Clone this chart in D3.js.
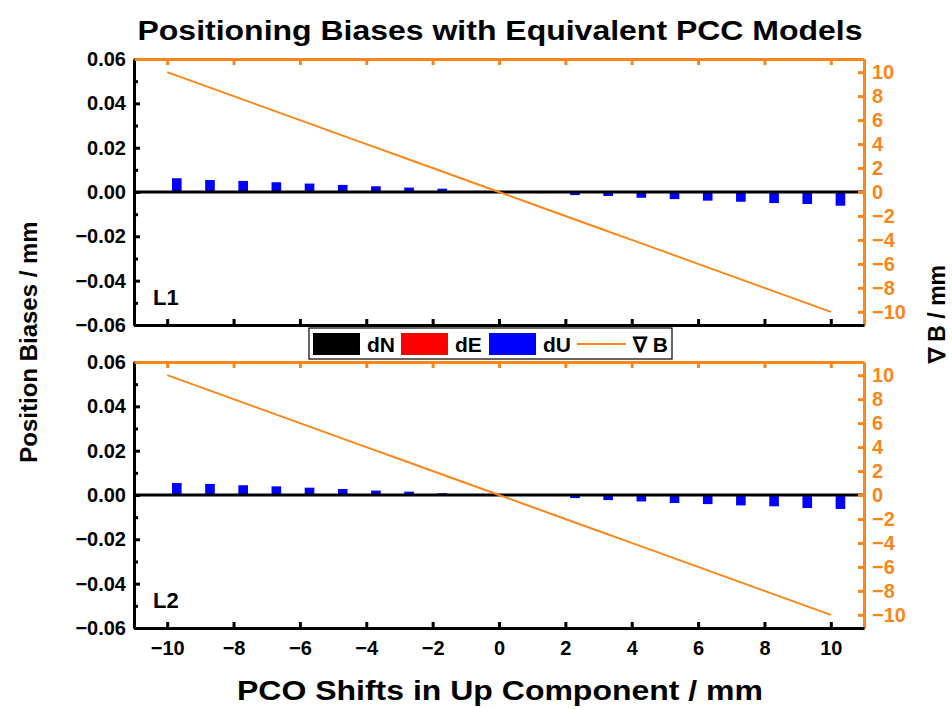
<!DOCTYPE html>
<html>
<head>
<meta charset="utf-8">
<script src="https://cdn.jsdelivr.net/npm/d3@7"></script>
<style>
  body { margin: 0; background: #fff; }
  svg text { font-family: "Liberation Sans", Arial, sans-serif; font-weight: bold; }
</style>
</head>
<body>
<svg id="chart" width="952" height="709"></svg>
<script>
// PCO shifts (x) and the per-panel biases
var shifts = [-10, -9, -8, -7, -6, -5, -4, -3, -2, -1, 0, 1, 2, 3, 4, 5, 6, 7, 8, 9, 10];
var gradB = [10, 9, 8, 7, 6, 5, 4, 3, 2, 1, 0, -1, -2, -3, -4, -5, -6, -7, -8, -9, -10];

var dN_L1 = [0, 0, 0, 0, 0, 0, 0, 0, 0, 0, 0, 0, 0, 0, 0, 0, 0, 0, 0, 0, 0];
var dE_L1 = [0, 0, 0, 0, 0, 0, 0, 0, 0, 0, 0, 0, 0, 0, 0, 0, 0, 0, 0, 0, 0];
var dU_L1 = [0.0062, 0.0054, 0.0050, 0.0044, 0.0038, 0.0032, 0.0026, 0.0020, 0.0015, 0.0005, 0,
             -0.0005, -0.0014, -0.0018, -0.0026, -0.0032, -0.0039, -0.0044, -0.0050, -0.0054, -0.0062];

var dN_L2 = [0, 0, 0, 0, 0, 0, 0, 0, 0, 0, 0, 0, 0, 0, 0, 0, 0, 0, 0, 0, 0];
var dE_L2 = [0, 0, 0, 0, 0, 0, 0, 0, 0, 0, 0, 0, 0, 0, 0, 0, 0, 0, 0, 0, 0];
var dU_L2 = [0.0054, 0.0050, 0.0044, 0.0039, 0.0033, 0.0027, 0.0020, 0.0015, 0.0008, 0.0004, 0,
             -0.0004, -0.0014, -0.0023, -0.0029, -0.0036, -0.0041, -0.0047, -0.0051, -0.0059, -0.0063];

var xTicks = [-10, -8, -6, -4, -2, 0, 2, 4, 6, 8, 10];
var yTicks = [-0.06, -0.04, -0.02, 0, 0.02, 0.04, 0.06];
var yMinorTicks = [-0.05, -0.03, -0.01, 0.01, 0.03, 0.05];
var bTicks = [-10, -8, -6, -4, -2, 0, 2, 4, 6, 8, 10];

var seriesNames = ["dN", "dE", "dU"];
var seriesColors = ["#000000", "#ff0000", "#0000ff"];
var orange = "#f7871a";

var svg = d3.select("#chart");

// shared horizontal scale
var left = 134, right = 864;
var x = d3.scaleLinear().domain([-11, 11]).range([left, right]);
var barW = 0.29; // bar width in x units

function panel(top, bottom, series, label, showXLabels) {
  var y = d3.scaleLinear().domain([-0.06, 0.06]).range([bottom, top]);
  var yB = d3.scaleLinear().domain([-11.1, 11.1]).range([bottom, top]);
  var g = svg.append("g");

  // bars: three per shift, dN / dE / dU side by side
  series.forEach(function (vals, s) {
    g.selectAll(".bar" + s)
      .data(vals)
      .enter().append("rect")
      .attr("x", function (d, i) { return x(shifts[i] + (s - 1) * barW - barW / 2); })
      .attr("width", x(barW) - x(0))
      .attr("y", function (d) { return y(Math.max(d, 0)); })
      .attr("height", function (d) { return Math.abs(y(d) - y(0)); })
      .attr("fill", seriesColors[s]);
  });

  // zero line
  g.append("line")
    .attr("x1", left).attr("x2", right)
    .attr("y1", y(0)).attr("y2", y(0))
    .attr("stroke", "#000").attr("stroke-width", 3);

  // gradient line on the right scale
  var line = d3.line()
    .x(function (d, i) { return x(shifts[i]); })
    .y(function (d) { return yB(d); });
  g.append("path")
    .datum(gradB)
    .attr("d", line)
    .attr("fill", "none")
    .attr("stroke", orange)
    .attr("stroke-width", 2);

  // left axis, inward ticks
  g.append("g").attr("transform", "translate(" + left + ",0)")
    .call(d3.axisLeft(y).tickValues(yTicks).tickSize(-6).tickSizeOuter(0)
      .tickPadding(8).tickFormat(d3.format(".2f")));
  g.append("g").attr("transform", "translate(" + left + ",0)")
    .call(d3.axisLeft(y).tickValues(yMinorTicks).tickSize(-4).tickSizeOuter(0).tickFormat(""));

  // right axis, orange
  g.append("g").attr("class", "baxis").attr("transform", "translate(" + right + ",0)")
    .call(d3.axisRight(yB).tickValues(bTicks).tickSize(-6).tickSizeOuter(0).tickPadding(8));

  // top axis, orange, no labels
  g.append("g").attr("class", "baxis").attr("transform", "translate(0," + top + ")")
    .call(d3.axisTop(x).tickValues(xTicks).tickSize(-6).tickSizeOuter(0).tickFormat(""));

  // bottom axis
  g.append("g").attr("transform", "translate(0," + bottom + ")")
    .call(d3.axisBottom(x).tickValues(xTicks).tickSize(-6).tickSizeOuter(0).tickPadding(13)
      .tickFormat(showXLabels ? null : ""));

  g.selectAll(".domain, .tick line").attr("stroke-width", 3);
  g.selectAll(".tick text").attr("font-size", 20).attr("fill", "#000");
  g.selectAll(".baxis .domain, .baxis .tick line").attr("stroke", orange);
  g.selectAll(".baxis .tick text").attr("fill", orange);

  g.append("text")
    .attr("x", 153).attr("y", bottom - 20)
    .attr("font-size", 22)
    .text(label);
}

panel(59, 325, [dN_L1, dE_L1, dU_L1], "L1", false);
panel(362, 628, [dN_L2, dE_L2, dU_L2], "L2", true);

// legend
var lg = svg.append("g").attr("transform", "translate(309,328)");
lg.append("rect").attr("width", 363).attr("height", 31)
  .attr("fill", "#fff").attr("stroke", "#000").attr("stroke-width", 1.2);
var lx = 4;
seriesNames.forEach(function (n, i) {
  lg.append("rect").attr("x", lx).attr("y", 5).attr("width", 47).attr("height", 22)
    .attr("fill", seriesColors[i]);
  lg.append("text").attr("x", lx + 54).attr("y", 24).attr("font-size", 21).text(n);
  lx += 88;
});
lg.append("line").attr("x1", 268).attr("x2", 317).attr("y1", 16).attr("y2", 16)
  .attr("stroke", orange).attr("stroke-width", 2);
lg.append("text").attr("x", 324).attr("y", 24).attr("font-size", 21).text("∇ B");

// titles
svg.append("text")
  .attr("x", 500).attr("y", 40)
  .attr("text-anchor", "middle")
  .attr("font-size", 27)
  .attr("textLength", 725).attr("lengthAdjust", "spacingAndGlyphs")
  .text("Positioning Biases with Equivalent PCC Models");

svg.append("text")
  .attr("x", 500).attr("y", 700)
  .attr("text-anchor", "middle")
  .attr("font-size", 27)
  .attr("textLength", 526).attr("lengthAdjust", "spacingAndGlyphs")
  .text("PCO Shifts in Up Component / mm");

svg.append("text")
  .attr("transform", "translate(37,342) rotate(-90)")
  .attr("text-anchor", "middle")
  .attr("font-size", 24)
  .text("Position Biases / mm");

svg.append("text")
  .attr("transform", "translate(945,314) rotate(-90)")
  .attr("text-anchor", "middle")
  .attr("font-size", 23)
  .text("∇ B / mm");
</script>
</body>
</html>
